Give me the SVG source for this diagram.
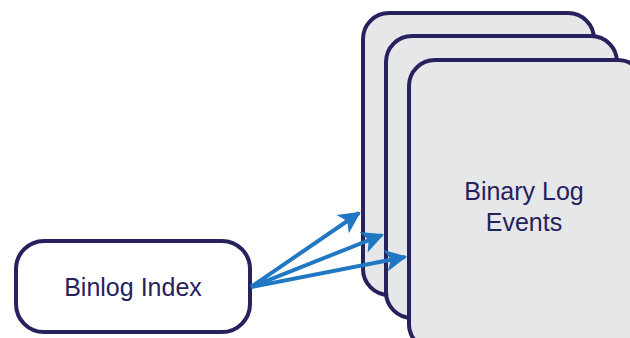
<svg xmlns="http://www.w3.org/2000/svg" width="630" height="338" viewBox="0 0 630 338">
<style>
.card{fill:#e6e7e9;stroke:#27215e;stroke-width:4}
.box{fill:#ffffff;stroke:#27215e;stroke-width:4}
.lbl{font-family:"Liberation Sans",Arial,sans-serif;font-size:25px;fill:#27215e;text-anchor:middle}
.conn{stroke:#1f78c1;stroke-width:4;fill:none}
</style>
<defs>
<marker id="ah" viewBox="0 0 10 10" refX="9" refY="5" markerWidth="6" markerHeight="5.5" markerUnits="strokeWidth" orient="auto">
<path d="M0,0 L10,5 L0,10 L2.5,5 z" fill="#1f78c1"/>
</marker>
</defs>
<g id="card1"><rect class="card" x="363" y="13" width="231" height="282" rx="26"/></g>
<g id="card2"><rect class="card" x="386" y="36" width="231" height="282" rx="26"/></g>
<g id="card3"><rect class="card" x="409" y="60" width="235" height="290" rx="26"/>
<text class="lbl" x="524" y="200">Binary Log</text>
<text class="lbl" x="524" y="231">Events</text></g>
<g id="binlog-index"><rect class="box" x="16" y="241" width="234" height="91" rx="28"/>
<text class="lbl" x="133" y="296">Binlog Index</text></g>
<g id="connectors">
<line class="conn" x1="251" y1="287" x2="359" y2="213" marker-end="url(#ah)"/>
<line class="conn" x1="251" y1="287" x2="382" y2="235" marker-end="url(#ah)"/>
<line class="conn" x1="251" y1="287" x2="405" y2="257" marker-end="url(#ah)"/>
</g>
</svg>
